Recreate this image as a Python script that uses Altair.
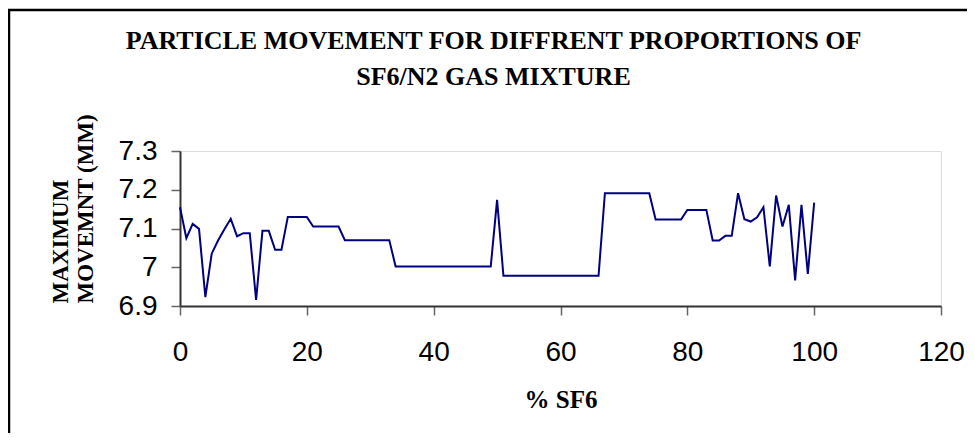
import altair as alt
import pandas as pd

# Data
sf6_pct = [0, 1, 2, 3, 4, 5, 6, 7, 8, 9, 10, 11, 12, 13, 14, 15, 16, 17, 20, 21,
           25, 26, 33, 34, 49, 50, 51, 66, 67, 74, 75, 79, 80, 83, 84, 85, 86, 87,
           88, 89, 90, 91, 92, 93, 94, 95, 96, 97, 98, 99, 100]
max_movement = [7.155, 7.075, 7.112, 7.099, 6.923, 7.035, 7.069, 7.098, 7.125, 7.080,
                7.088, 7.088, 6.916, 7.094, 7.094, 7.045, 7.045, 7.130, 7.130, 7.105,
                7.105, 7.070, 7.070, 7.002, 7.002, 7.174, 6.978, 6.978, 7.191, 7.191,
                7.123, 7.123, 7.148, 7.148, 7.069, 7.069, 7.081, 7.081, 7.191, 7.124,
                7.118, 7.129, 7.155, 7.002, 7.185, 7.105, 7.161, 6.966, 7.161, 6.983,
                7.167]
x_ticks = [0, 20, 40, 60, 80, 100, 120]
y_ticks = [6.9, 7.0, 7.1, 7.2, 7.3]

title_lines = ["PARTICLE MOVEMENT FOR DIFFRENT PROPORTIONS OF", "SF6/N2 GAS MIXTURE"]
y_title = ["MAXIMUM", "MOVEMNT (MM)"]
x_title = "% SF6"

df = pd.DataFrame({"x": sf6_pct, "y": max_movement})

line = alt.Chart(df).mark_line(color="#000080", strokeWidth=2).encode(
    x=alt.X("x:Q",
            scale=alt.Scale(domain=[0, 120], nice=False, zero=False),
            axis=alt.Axis(values=x_ticks, title=x_title, grid=False,
                          labelFontSize=28, labelFont="Liberation Sans",
                          labelColor="black", labelPadding=23, labelFlush=False,
                          tickSize=9, tickColor="#666666", tickWidth=1.5,
                          domainColor="#333333", domainWidth=2,
                          titleFont="Liberation Serif", titleFontWeight="bold",
                          titleFontSize=25, titleColor="black",
                          titleY=101, titleBaseline="alphabetic")),
    y=alt.Y("y:Q",
            scale=alt.Scale(domain=[6.9, 7.3], nice=False, zero=False),
            axis=alt.Axis(values=y_ticks, format="~g", title=y_title, grid=False,
                          labelFontSize=28, labelFont="Liberation Sans",
                          labelColor="black", labelPadding=14, labelFlush=False,
                          tickSize=9, tickColor="#666666", tickWidth=1.5,
                          domainColor="#333333", domainWidth=2,
                          titleFont="Liberation Serif", titleFontWeight="bold",
                          titleFontSize=23, titleColor="black",
                          titleAngle=270, titleAlign="left",
                          titleBaseline="alphabetic", titleLineHeight=25,
                          titleX=-113, titleY=152)),
)

frame = alt.Chart(alt.Data(values=[{}])).mark_rect(
    fill=None, stroke="black", strokeWidth=2.5
).encode(
    x=alt.value(-171), x2=alt.value(900),
    y=alt.value(-141), y2=alt.value(400),
)

chart = alt.layer(frame, line).properties(
    width=761, height=155,
    autosize=alt.AutoSizeParams(type="none"),
    padding={"left": 172, "top": 143, "right": 26, "bottom": 127},
    title=alt.TitleParams(text=title_lines, font="Liberation Serif",
                          fontWeight="bold", fontSize=26, color="black",
                          anchor="middle", frame="group", dx=-67,
                          lineHeight=36, offset=0, dy=81),
).configure_view(stroke="#888888", strokeWidth=2).configure(background="white")

chart.save("out.html", embed_options={"renderer": "svg", "actions": False})
